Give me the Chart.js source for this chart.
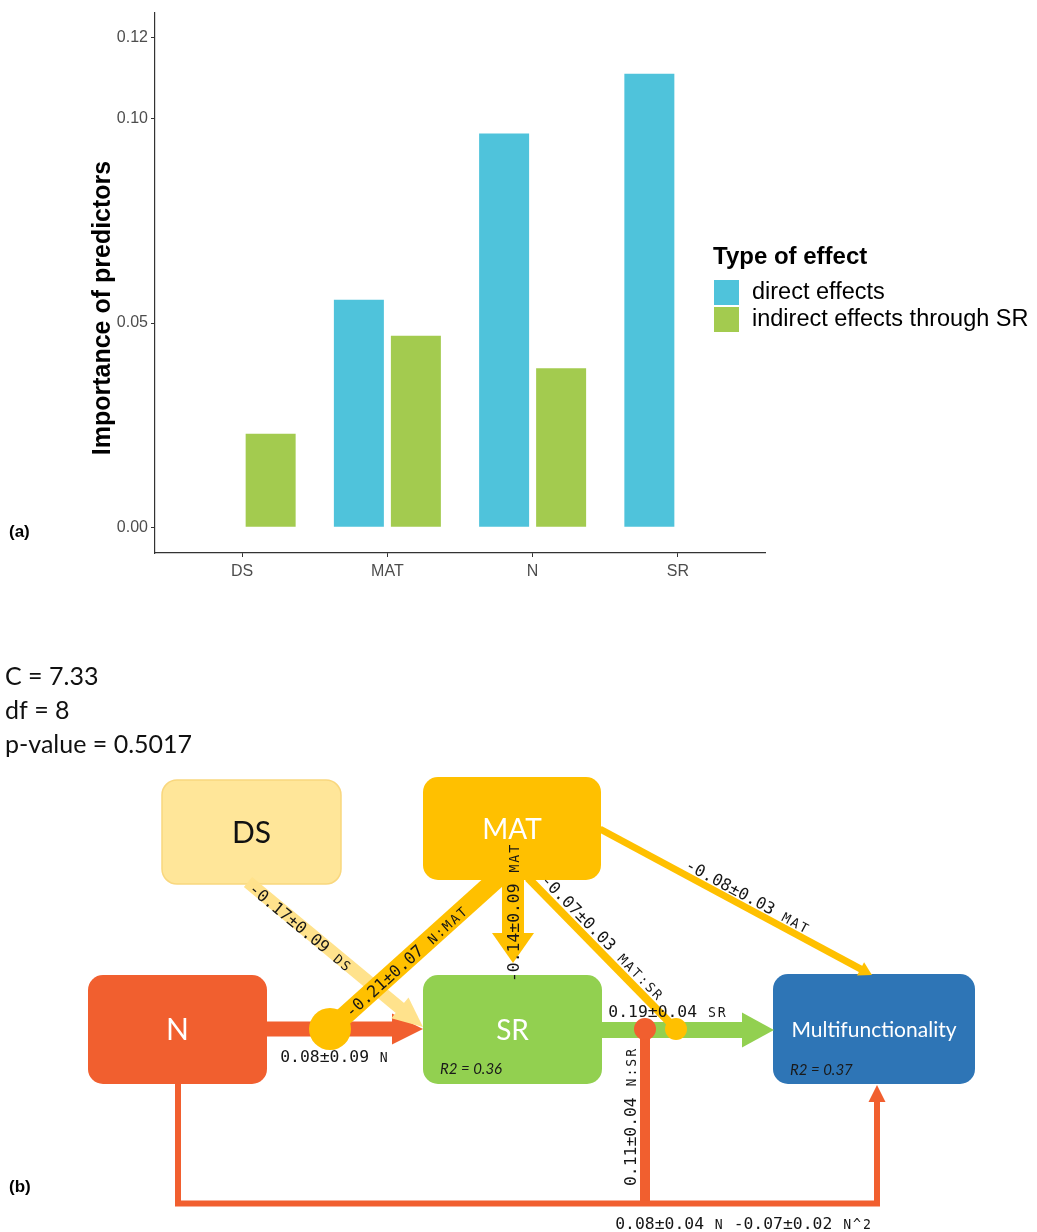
<!DOCTYPE html>
<html>
<head>
<meta charset="utf-8">
<title>Importance of predictors and path model</title>
<script src="https://cdn.jsdelivr.net/npm/chart.js@4.4.1/dist/chart.umd.min.js"></script>
<style>
  html, body { margin: 0; padding: 0; background: #ffffff; }
  #wrap { position: relative; width: 1037px; height: 1232px; overflow: hidden; }
  #barBox { position: absolute; left: 0; top: 0; width: 1037px; height: 600px; }
  #pathBox { position: absolute; left: 0; top: 600px; width: 1037px; height: 632px; }
</style>
</head>
<body>
<div id="wrap">
  <div id="barBox"><canvas id="bars"></canvas></div>
  <div id="pathBox"><canvas id="paths"></canvas></div>
</div>
<script>
// ---------- (a) importance of predictors ----------
const predictors = ['DS', 'MAT', 'N', 'SR'];
const effectLabels = ['direct effects', 'indirect effects through SR'];
const directEffects = [null, 0.0557, 0.0964, 0.1110];
const indirectEffects = [0.0229, 0.0469, 0.0389, null];
const importanceTicks = [0.00, 0.05, 0.10, 0.12];

// ---------- (b) piecewise SEM ----------
const fitStats = ['C = 7.33', 'df = 8', 'p-value = 0.5017'];
const nodeNames = ['DS', 'MAT', 'N', 'SR', 'Multifunctionality'];
const nodeR2 = [null, null, null, 0.36, 0.37];
const pathSource = ['N', 'DS', 'N:MAT', 'MAT', 'MAT', 'SR', 'MAT:SR', 'N:SR', 'N'];
const pathTarget = ['SR', 'SR', 'SR', 'SR', 'Multifunctionality', 'Multifunctionality',
                    'Multifunctionality', 'Multifunctionality', 'Multifunctionality'];
const pathEstimate = [0.08, -0.17, -0.21, -0.14, -0.08, 0.19, -0.07, 0.11, 0.08];
const pathStdErr = [0.09, 0.09, 0.07, 0.09, 0.03, 0.04, 0.03, 0.04, 0.04];
const quadTerm = 'N^2';
const quadEstimate = -0.07;
const quadStdErr = 0.02;

// ---------- styling ----------
const effectColors = ['#4FC3DB', '#A3CB4F'];
const AX = '#333333';
const TICK_TXT = '#4D4D4D';
const SANS = '"Liberation Sans", Arial, sans-serif';
const LATO = 'Lato, "Open Sans", sans-serif';
const MONO = '"DejaVu Sans Mono", monospace';

const C = { DS: '#FFE699', MAT: '#FFC000', N: '#F15F2F', SR: '#92D050', MF: '#2E75B6' };

// Node boxes in page coordinates [x0, y0, x1, y1]
const nodeBoxes = {
  DS: [162, 780, 341, 884],
  MAT: [423, 777, 601, 880],
  N: [88, 975, 267, 1084],
  SR: [423, 975, 602, 1084],
  Multifunctionality: [773, 974, 975, 1084]
};
const nodeStyle = {
  DS: { fill: C.DS, stroke: '#F9D77E', text: '#111111', size: 30 },
  MAT: { fill: C.MAT, text: '#ffffff', size: 28 },
  N: { fill: C.N, text: '#ffffff', size: 30 },
  SR: { fill: C.SR, text: '#ffffff', size: 28 },
  Multifunctionality: { fill: C.MF, text: '#ffffff', size: 21 }
};
const r2Anchor = { SR: [440, 1069], Multifunctionality: [790, 1070] };

// Geometry of each path, same order as pathSource
const pathLayout = [
  { kind: 'arrow', color: C.N, w: 15, headL: 31, headW: 31,
    pts: [[267, 1029], [423, 1029]], label: { x: 334.5, y: 1056, rot: 0 } },
  { kind: 'arrow', color: '#FFE28C', w: 13, headL: 30, headW: 27,
    pts: [[248, 882], [423, 1027]], label: { x: 301, y: 927, rot: 39.6 } },
  { kind: 'moderator', color: C.MAT, w: 19, r: 21,
    pts: [[500, 876], [330, 1029]], label: { x: 406, y: 961, rot: -42 } },
  { kind: 'arrow', color: C.MAT, w: 22, headL: 30, headW: 42,
    pts: [[513, 878], [513, 963]], label: { x: 513, y: 913, rot: -90 } },
  { kind: 'arrow', color: C.MAT, w: 7, headL: 13, headW: 15,
    pts: [[600, 829], [872, 975]], label: { x: 748, y: 896, rot: 28.2 } },
  { kind: 'arrow', color: C.SR, w: 16, headL: 32, headW: 35,
    pts: [[602, 1030], [774, 1030]], label: { x: 667.5, y: 1011, rot: 0 } },
  { kind: 'moderator', color: C.MAT, w: 8, r: 11,
    pts: [[528, 878], [676, 1029]], label: { x: 603, y: 937, rot: 45.6 } },
  { kind: 'moderator', color: C.N, w: 10, r: 11,
    pts: [[645, 1206], [645, 1029]], label: { x: 630, y: 1117, rot: -90 } },
  { kind: 'arrow', color: C.N, w: 6, headL: 17, headW: 17,
    pts: [[178, 1084], [178, 1203.5], [877, 1203.5], [877, 1085]], label: { x: 743.5, y: 1223, rot: 0 } }
];

// ---------- helpers ----------
function roundRect(ctx, x0, y0, x1, y1, r) {
  ctx.beginPath();
  ctx.moveTo(x0 + r, y0);
  ctx.arcTo(x1, y0, x1, y1, r);
  ctx.arcTo(x1, y1, x0, y1, r);
  ctx.arcTo(x0, y1, x0, y0, r);
  ctx.arcTo(x0, y0, x1, y0, r);
  ctx.closePath();
}

function fmt(v) { return v.toFixed(2); }

function labelSegments(i) {
  const segs = [
    { t: fmt(pathEstimate[i]) + '\u00B1' + fmt(pathStdErr[i]) + ' ', small: false },
    { t: pathSource[i], small: true }
  ];
  if (i === pathSource.length - 1) {
    segs.push({ t: ' ' + fmt(quadEstimate) + '\u00B1' + fmt(quadStdErr) + ' ', small: false });
    segs.push({ t: quadTerm, small: true });
  }
  return segs;
}

// Monospaced label: numbers full size, variable names a little smaller, same cell width
function drawMonoLabel(ctx, segs, cx, cy, rotDeg) {
  const big = 16.4, small = 13.2;
  ctx.save();
  ctx.translate(cx, cy);
  ctx.rotate(rotDeg * Math.PI / 180);
  ctx.font = big + 'px ' + MONO;
  const adv = ctx.measureText('0').width;
  const n = segs.reduce((a, s) => a + s.t.length, 0);
  let x = -n * adv / 2;
  ctx.fillStyle = '#161616';
  ctx.textAlign = 'center';
  ctx.textBaseline = 'alphabetic';
  const base = big * 0.36;
  for (const s of segs) {
    ctx.font = (s.small ? small : big) + 'px ' + MONO;
    for (const ch of s.t) {
      ctx.fillText(ch, x + adv / 2, base);
      x += adv;
    }
  }
  ctx.restore();
}

// ---------- chart (a) ----------
const panelA = {
  id: 'panelA',
  afterDraw(chart) {
    const ctx = chart.ctx;
    ctx.save();
    // y axis title
    ctx.translate(103, 308);
    ctx.rotate(-Math.PI / 2);
    ctx.font = 'bold 25px ' + SANS;
    ctx.fillStyle = '#000000';
    ctx.textAlign = 'center';
    ctx.textBaseline = 'middle';
    ctx.fillText('Importance of predictors', 0, 0);
    ctx.restore();

    // legend
    ctx.save();
    ctx.fillStyle = '#000000';
    ctx.textAlign = 'left';
    ctx.textBaseline = 'middle';
    ctx.font = 'bold 24px ' + SANS;
    ctx.fillText('Type of effect', 713, 257);
    ctx.font = '23.5px ' + SANS;
    chart.data.datasets.forEach((ds, i) => {
      const top = 280 + i * 27;
      ctx.fillStyle = ds.backgroundColor;
      ctx.fillRect(714, top, 25, 25);
      ctx.fillStyle = '#000000';
      ctx.fillText(ds.label, 752, top + 13);
    });
    // panel tag
    ctx.font = 'bold 17px ' + SANS;
    ctx.fillText('(a)', 9, 532);
    ctx.restore();
  }
};

new Chart(document.getElementById('bars'), {
  type: 'bar',
  data: {
    datasets: [
      { label: effectLabels[0], backgroundColor: effectColors[0],
        data: directEffects.map((v, i) => ({ x: i + 1, y: v })) },
      { label: effectLabels[1], backgroundColor: effectColors[1],
        data: indirectEffects.map((v, i) => ({ x: i + 1, y: v })) }
    ]
  },
  options: {
    responsive: true,
    maintainAspectRatio: false,
    animation: false,
    devicePixelRatio: 1,
    categoryPercentage: 0.785,
    barPercentage: 0.877,
    layout: { padding: { left: 0, top: 9, right: 272, bottom: 0 } },
    plugins: { legend: { display: false }, tooltip: { enabled: false } },
    scales: {
      x: {
        type: 'linear',
        min: 0.4,
        max: 4.6,
        offset: false,
        bounds: 'data',
        afterBuildTicks: s => { s.ticks = predictors.map((p, i) => ({ value: i + 1 })); },
        afterFit: s => { s.height = 47; },
        grid: { display: true, offset: false, drawOnChartArea: false, drawTicks: true, tickLength: 4,
                color: AX, tickColor: AX, tickWidth: 1 },
        border: { display: true, color: AX, width: 1.2 },
        ticks: {
          autoSkip: false, maxRotation: 0, padding: 5,
          color: TICK_TXT, font: { family: SANS, size: 16 },
          callback: v => predictors[Math.round(v) - 1]
        }
      },
      y: {
        type: 'linear',
        min: -0.0063,
        max: 0.126,
        bounds: 'data',
        afterBuildTicks: s => { s.ticks = importanceTicks.map(v => ({ value: v })); },
        afterFit: s => { s.width = 155; },
        grid: { display: true, drawOnChartArea: false, drawTicks: true, tickLength: 4,
                color: AX, tickColor: AX, tickWidth: 1 },
        border: { display: true, color: AX, width: 1.2 },
        ticks: {
          padding: 3, color: TICK_TXT, font: { family: SANS, size: 16 },
          callback: v => v.toFixed(2)
        }
      }
    }
  },
  plugins: [panelA]
});

// ---------- chart (b) ----------
const pathDiagram = {
  id: 'pathDiagram',
  afterDatasetsDraw(chart) {
    const ctx = chart.ctx;
    const xs = chart.scales.x, ys = chart.scales.y;
    const X = v => xs.getPixelForValue(v);
    const Y = v => ys.getPixelForValue(v);

    ctx.save();
    // model fit
    ctx.fillStyle = '#111111';
    ctx.font = '25px ' + LATO;
    ctx.textAlign = 'left';
    ctx.textBaseline = 'alphabetic';
    fitStats.forEach((t, i) => ctx.fillText(t, X(5), Y(685 + i * 34)));

    // panel tag
    ctx.font = 'bold 17px ' + SANS;
    ctx.textBaseline = 'middle';
    ctx.fillStyle = '#000000';
    ctx.fillText('(b)', X(9), Y(1187));

    // nodes
    nodeNames.forEach((name, i) => {
      const b = nodeBoxes[name], st = nodeStyle[name];
      roundRect(ctx, X(b[0]), Y(b[1]), X(b[2]), Y(b[3]), 15);
      ctx.fillStyle = st.fill;
      ctx.fill();
      if (st.stroke) { ctx.lineWidth = 1.5; ctx.strokeStyle = st.stroke; ctx.stroke(); }
      ctx.fillStyle = st.text;
      ctx.font = st.size + 'px ' + LATO;
      ctx.textAlign = 'center';
      ctx.textBaseline = 'middle';
      ctx.fillText(name, X((b[0] + b[2]) / 2), Y((b[1] + b[3]) / 2 + 1));
      if (nodeR2[i] !== null) {
        const a = r2Anchor[name];
        ctx.font = 'italic 15px ' + LATO;
        ctx.fillStyle = '#1a1a1a';
        ctx.textAlign = 'left';
        ctx.fillText('R2 = ' + nodeR2[i].toFixed(2), X(a[0]), Y(a[1]));
      }
    });

    // paths
    pathLayout.forEach(g => {
      const pts = g.pts.map(p => [X(p[0]), Y(p[1])]);
      ctx.strokeStyle = g.color;
      ctx.fillStyle = g.color;
      ctx.lineWidth = g.w;
      ctx.lineCap = 'butt';
      ctx.lineJoin = 'miter';
      if (g.kind === 'arrow') {
        const tip = pts[pts.length - 1], prev = pts[pts.length - 2];
        const len = Math.hypot(tip[0] - prev[0], tip[1] - prev[1]);
        const ux = (tip[0] - prev[0]) / len, uy = (tip[1] - prev[1]) / len;
        const bx = tip[0] - ux * g.headL, by = tip[1] - uy * g.headL;
        ctx.beginPath();
        ctx.moveTo(pts[0][0], pts[0][1]);
        for (let k = 1; k < pts.length - 1; k++) ctx.lineTo(pts[k][0], pts[k][1]);
        ctx.lineTo(bx + ux * 2, by + uy * 2);
        ctx.stroke();
        ctx.beginPath();
        ctx.moveTo(tip[0], tip[1]);
        ctx.lineTo(bx - uy * g.headW / 2, by + ux * g.headW / 2);
        ctx.lineTo(bx + uy * g.headW / 2, by - ux * g.headW / 2);
        ctx.closePath();
        ctx.fill();
      } else {
        ctx.beginPath();
        ctx.moveTo(pts[0][0], pts[0][1]);
        ctx.lineTo(pts[1][0], pts[1][1]);
        ctx.stroke();
        ctx.beginPath();
        ctx.arc(pts[1][0], pts[1][1], g.r, 0, Math.PI * 2);
        ctx.fill();
      }
    });

    // coefficient labels
    pathLayout.forEach((g, i) => {
      drawMonoLabel(ctx, labelSegments(i), X(g.label.x), Y(g.label.y), g.label.rot);
    });
    ctx.restore();
  }
};

new Chart(document.getElementById('paths'), {
  type: 'scatter',
  data: { datasets: [{ data: [] }] },
  options: {
    responsive: true,
    maintainAspectRatio: false,
    animation: false,
    devicePixelRatio: 1,
    layout: { padding: 0 },
    plugins: { legend: { display: false }, tooltip: { enabled: false } },
    scales: {
      x: { type: 'linear', display: false, min: 0, max: 1037 },
      y: { type: 'linear', display: false, min: 600, max: 1232, reverse: true }
    }
  },
  plugins: [pathDiagram]
});
</script>
</body>
</html>
